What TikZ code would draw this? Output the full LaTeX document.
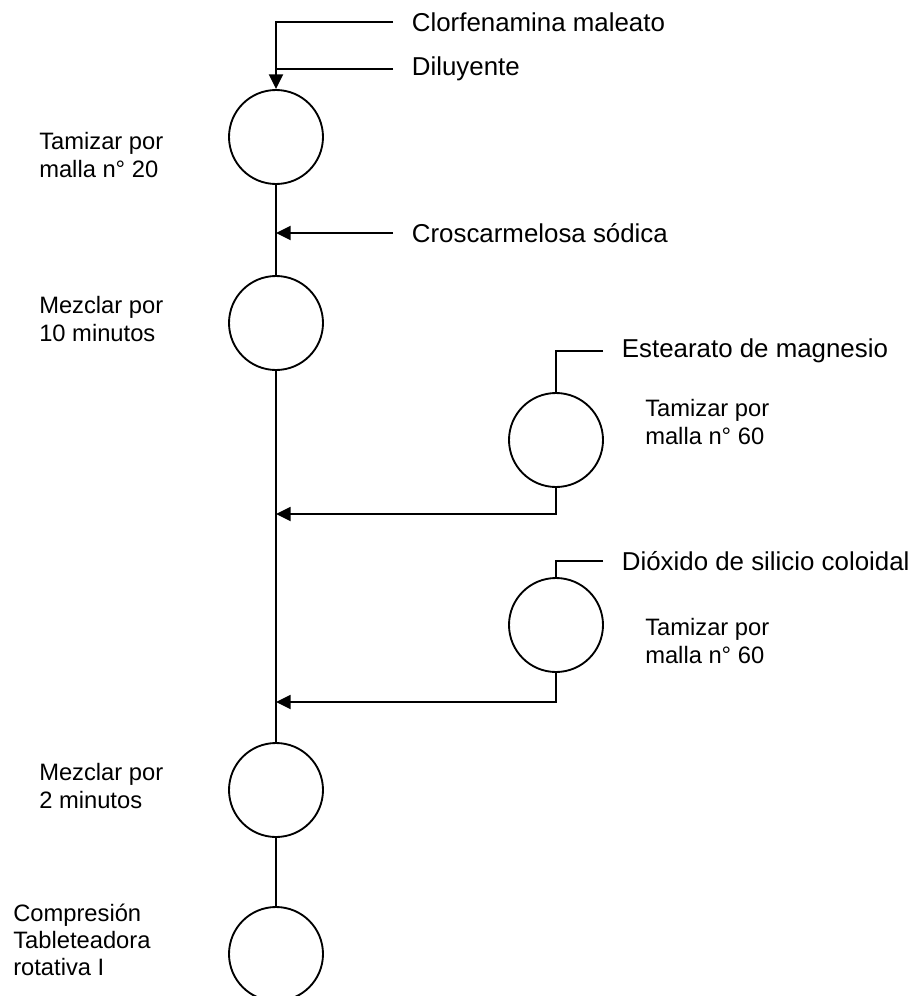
\documentclass[tikz,border=0pt]{standalone}
\usepackage{fontspec}
\setmainfont{Liberation Sans}
\usepackage{tikz}
\usetikzlibrary{arrows.meta,positioning}

\begin{document}
\begin{tikzpicture}[
    x=0.75pt, y=-0.75pt,
    proc/.style={circle, draw, line width=1.4pt, minimum size=70.5pt, inner sep=0pt},
    input/.style={anchor=west, inner xsep=14pt, inner ysep=0pt, font=\fontsize{19.4}{23}\selectfont},
    note/.style={anchor=west, inner sep=0pt, align=left, font=\fontsize{17.8}{20.3}\selectfont},
    line/.style={line width=1.4pt},
    arrow/.style={line width=1.4pt, -{Triangle[length=11pt, width=10.5pt]}}
]
    \useasboundingbox (0,0) rectangle (914,996);

    % Process circles (main line)
    \node[proc] (c1) at (276,137) {};
    \node[proc] (c2) at (276,323) {};
    \node[proc] (c5) at (276,790) {};
    \node[proc] (c6) at (276,954) {};
    % Process circles (side lines)
    \node[proc] (c3) at (556,440) {};
    \node[proc] (c4) at (556,625) {};

    % Raw materials
    \node[input] (clor) at (393,22) {Clorfenamina maleato};
    \node[input] (dil) at (393,69) {Diluyente};
    \node[input] (cros) at (393,233) {Croscarmelosa sódica};
    \node[input] (estm) at (603,351) {Estearato de magnesio};
    \node[input] (diox) at (603,561) {Dióxido de silicio coloidal};

    % Operation notes
    \node[note] (n1) at (39,155) {Tamizar por\\malla n° 20};
    \node[note] (n2) at (39,319) {Mezclar por\\10 minutos};
    \node[note] (n3) at (645,422) {Tamizar por\\malla n° 60};
    \node[note] (n4) at (645,641) {Tamizar por\\malla n° 60};
    \node[note] (n5) at (39,786) {Mezclar por\\2 minutos};
    \node[note] (n6) at (13,940) {Compresión\\Tableteadora\\rotativa I};

    % Junctions on the main line
    \coordinate (j3) at (276,514);
    \coordinate (j4) at (276,702);

    % Connectors
    \draw[arrow] (clor.west) -| (c1.north);
    \draw[line] (dil.west) -- (dil.west -| c1.north);
    \draw[line] (c1) -- (c2);
    \draw[arrow] (cros.west) -- (cros.west -| c1.south);
    \draw[line] (c2) -- (c5);
    \draw[line] (estm.west) -| (c3.north);
    \draw[arrow] (c3.south) |- (j3);
    \draw[line] (diox.west) -| (c4.north);
    \draw[arrow] (c4.south) |- (j4);
    \draw[line] (c5) -- (c6);
\end{tikzpicture}
\end{document}
